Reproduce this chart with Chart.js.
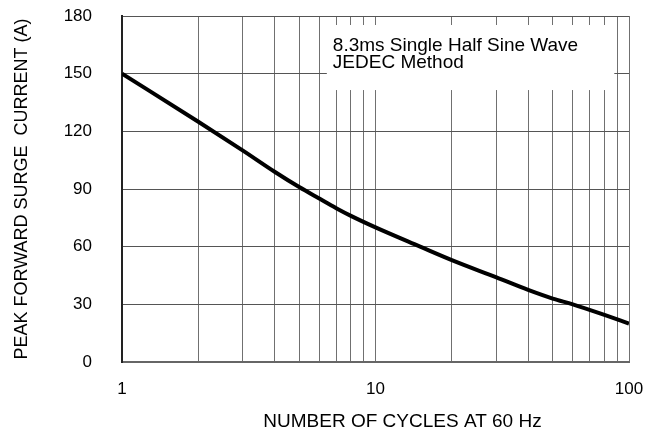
<!DOCTYPE html>
<html>
<head>
<meta charset="utf-8">
<script src="https://cdn.jsdelivr.net/npm/chart.js@4"></script>
<style>
  html, body { margin: 0; padding: 0; background: #fff; }
  #wrap { width: 648px; height: 436px; }
</style>
</head>
<body>
<div id="wrap"><canvas id="surge"></canvas></div>
<script>
// cycles at 60 Hz vs peak forward surge current (A)
const cycles = [1, 2, 3, 4, 5, 6, 7, 8, 10, 15, 20, 30, 40, 50, 60, 80, 100];
const surgeAmps = [150, 125, 110, 99, 91, 85, 80, 76, 70, 60, 53, 44, 37.5, 33, 30, 24.5, 20];

const xGridValues = [1, 2, 3, 4, 5, 6, 7, 8, 9, 10, 20, 30, 40, 50, 60, 70, 80, 90, 100];
const xLabelValues = [1, 10, 100];
const yTicks = [0, 30, 60, 90, 120, 150, 180];
const noteLines = ['8.3ms Single Half Sine Wave', 'JEDEC Method'];
const xTitle = 'NUMBER OF CYCLES AT 60 Hz';

const fontFamily = 'Arial, "Liberation Sans", sans-serif';

const noteBox = {
    id: 'noteBox',
    beforeDatasetsDraw(chart) {
        const {ctx, chartArea: a} = chart;
        const w = a.right - a.left, h = a.bottom - a.top;
        const x0 = a.left + 0.404 * w, x1 = a.left + 0.971 * w;
        const y0 = a.top + 0.026 * h, y1 = a.top + 0.214 * h;
        ctx.save();
        ctx.fillStyle = '#fff';
        ctx.fillRect(x0, y0, x1 - x0, y1 - y0);
        ctx.fillStyle = '#000';
        ctx.font = '19px ' + fontFamily;
        ctx.textBaseline = 'alphabetic';
        noteLines.forEach((t, i) => ctx.fillText(t, x0 + 6, y0 + 26 + i * 17));
        ctx.restore();
    },
    afterDraw(chart) {
        // x axis title sits a bit right of the plot centre in the original
        const {ctx, chartArea: a} = chart;
        ctx.save();
        ctx.fillStyle = '#000';
        ctx.font = '19px ' + fontFamily;
        ctx.textAlign = 'center';
        ctx.textBaseline = 'alphabetic';
        ctx.fillText(xTitle, (a.left + a.right) / 2 + 27, a.bottom + 65);
        ctx.restore();
    }
};

let surgeChart = new Chart(document.getElementById('surge'), {
    type: 'line',
    data: {
        datasets: [{
            data: cycles.map((c, i) => ({x: c, y: surgeAmps[i]})),
            borderColor: '#000',
            borderWidth: 4,
            pointRadius: 0,
            cubicInterpolationMode: 'monotone',
            fill: false
        }]
    },
    options: {
        responsive: true,
        maintainAspectRatio: false,
        animation: false,
        layout: {padding: {top: 16, right: 19, left: 0, bottom: 0}},
        plugins: {legend: {display: false}, tooltip: {enabled: false}},
        scales: {
            x: {
                type: 'logarithmic',
                min: 1,
                max: 100,
                afterBuildTicks: (scale) => {
                    scale.ticks = xGridValues.map(v => ({value: v}));
                },
                afterFit: (scale) => {
                    scale.height = 74;
                    scale.paddingLeft = 0;
                    scale.paddingRight = 0;
                },
                ticks: {
                    autoSkip: false,
                    maxRotation: 0,
                    color: '#000',
                    font: {family: fontFamily, size: 17},
                    padding: 17,
                    callback: (v) => xLabelValues.includes(v) ? String(v) : ''
                },
                grid: {color: '#707070', lineWidth: 1, drawTicks: false},
                border: {color: '#666', width: 2}
            },
            y: {
                min: 0,
                max: 180,
                afterBuildTicks: (scale) => {
                    scale.ticks = yTicks.map(v => ({value: v}));
                },
                afterFit: (scale) => {
                    scale.width = 122;
                    scale.paddingTop = 0;
                    scale.paddingBottom = 0;
                },
                ticks: {
                    color: '#000',
                    font: {family: fontFamily, size: 17},
                    padding: 30
                },
                grid: {color: '#555', lineWidth: 1, drawTicks: false},
                border: {color: '#222', width: 2},
                title: {
                    display: true,
                    text: 'PEAK FORWARD SURGE  CURRENT (A)',
                    color: '#000',
                    font: {family: fontFamily, size: 18},
                    padding: {top: 11, bottom: 1}
                }
            }
        }
    },
    plugins: [noteBox]
});
</script>
</body>
</html>
